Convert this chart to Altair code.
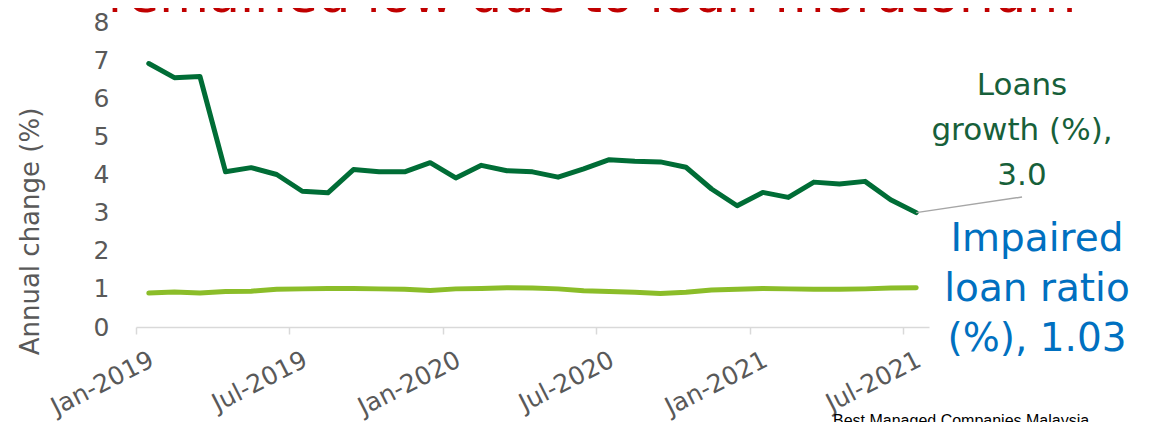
import altair as alt
import pandas as pd

# ---- data ----
months = [
    "Jan-2019", "Feb-2019", "Mar-2019", "Apr-2019", "May-2019", "Jun-2019",
    "Jul-2019", "Aug-2019", "Sep-2019", "Oct-2019", "Nov-2019", "Dec-2019",
    "Jan-2020", "Feb-2020", "Mar-2020", "Apr-2020", "May-2020", "Jun-2020",
    "Jul-2020", "Aug-2020", "Sep-2020", "Oct-2020", "Nov-2020", "Dec-2020",
    "Jan-2021", "Feb-2021", "Mar-2021", "Apr-2021", "May-2021", "Jun-2021",
    "Jul-2021",
]
loans_growth = [6.91, 6.54, 6.57, 4.07, 4.18, 4.00, 3.56, 3.52, 4.13, 4.07, 4.07,
                4.31, 3.91, 4.24, 4.10, 4.07, 3.93, 4.15, 4.39, 4.35, 4.33, 4.19,
                3.62, 3.18, 3.53, 3.40, 3.80, 3.75, 3.82, 3.34, 3.00]
impaired_ratio = [0.89, 0.92, 0.89, 0.93, 0.94, 0.99, 1.00, 1.01, 1.01, 1.00, 0.99,
                  0.96, 1.00, 1.01, 1.03, 1.02, 1.00, 0.95, 0.93, 0.91, 0.88, 0.91,
                  0.97, 0.99, 1.01, 1.00, 0.99, 0.99, 1.00, 1.02, 1.03]
tick_labels = ["Jan-2019", "Jul-2019", "Jan-2020", "Jul-2020", "Jan-2021", "Jul-2021"]
y_ticks = [0, 1, 2, 3, 4, 5, 6, 7, 8]
series_names = ["Loans growth (%)", "Impaired loan ratio (%)"]
series_colors = ["#006d36", "#8bbd29"]

title_text = "remained low due to loan moratorium"
loans_label = ["Loans", "growth (%),", "3.0"]
impaired_label = ["Impaired", "loan ratio", "(%), 1.03"]
footer_text = "Best Managed Companies Malaysia"

FONT = "DejaVu Sans"
GREY = "#595959"

rows = []
for i, m in enumerate(months):
    rows.append({"pos": i + 0.5, "month": m, "series": series_names[0], "value": loans_growth[i]})
    rows.append({"pos": i + 0.5, "month": m, "series": series_names[1], "value": impaired_ratio[i]})
df = pd.DataFrame(rows)

label_expr = "[" + ",".join("'" + t + "'" for t in tick_labels) + "][round(datum.value / 6)]"

x_scale = alt.Scale(domain=[0, len(months)], nice=False, zero=False)
y_scale = alt.Scale(domain=[0, 8], nice=False)

x_enc = alt.X(
    "pos:Q",
    scale=x_scale,
    axis=alt.Axis(
        values=[0, 6, 12, 18, 24, 30],
        labelExpr=label_expr,
        labelOverlap=False,
        title=None,
        grid=False,
        domainColor="#d9d9d9",
        domainWidth=1.5,
        tickColor="#d9d9d9",
        tickWidth=1.5,
        tickSize=7,
        labelFont=FONT,
        labelFontSize=25,
        labelColor=GREY,
        labelAngle=333,
        labelAlign="right",
        labelBaseline="top",
        labelOffset=10,
        labelPadding=13,
    ),
)
y_enc = alt.Y(
    "value:Q",
    scale=y_scale,
    axis=alt.Axis(
        values=y_ticks,
        labelOverlap=False,
        ticks=False,
        tickSize=0,
        domain=False,
        grid=False,
        labelFont=FONT,
        labelFontSize=25,
        labelColor=GREY,
        labelPadding=27,
        title="Annual change (%)",
        titleFont=FONT,
        titleFontSize=26,
        titleFontWeight="normal",
        titleColor=GREY,
        titleAngle=270,
        titleAlign="center",
        titleBaseline="middle",
        titleX=-106,
        titleY=209,
    ),
)

base = alt.Chart(df)

lines = base.mark_line(strokeWidth=5, strokeCap="round", strokeJoin="round").encode(
    x=x_enc,
    y=y_enc,
    color=alt.Color("series:N", scale=alt.Scale(domain=series_names, range=series_colors), legend=None),
    detail="series:N",
)

# leader line from the last loans-growth point to its label
leader = base.transform_filter(
    (alt.datum.series == series_names[0]) & (alt.datum.pos == len(months) - 0.5)
).mark_rule(color="#a6a6a6", strokeWidth=1.5).encode(
    x=x_enc,
    y=y_enc,
    x2=alt.value(886),
    y2=alt.value(175),
)

one = alt.Data(values=[{}])

loans_txt = alt.Chart(one).mark_text(
    text=loans_label, font=FONT, fontSize=31, color="#17603a", align="center",
    baseline="alphabetic", lineHeight=45,
).encode(x=alt.value(886), y=alt.value(73))

impaired_txt = alt.Chart(one).mark_text(
    text=impaired_label, font=FONT, fontSize=39, color="#0070c0", align="center",
    baseline="alphabetic", lineHeight=50,
).encode(x=alt.value(901), y=alt.value(229))

title_txt = alt.Chart(one).mark_text(
    text=title_text, font=FONT, fontSize=51, color="#c00000", align="center",
    baseline="alphabetic",
).encode(x=alt.value(456), y=alt.value(-10))

footer_txt = alt.Chart(one).mark_text(
    text=footer_text, font="Liberation Sans", fontSize=16, color="#000000", align="left",
    baseline="alphabetic",
).encode(x=alt.value(697), y=alt.value(404))

chart = alt.layer(lines, leader, loans_txt, impaired_txt, title_txt, footer_txt).properties(
    width=793,
    height=305,
    autosize=alt.AutoSizeParams(type="none"),
    padding={"left": 128, "top": 14, "right": 225, "bottom": 103},
    background="white",
).configure_view(stroke=None)

chart.save("out.html", embed_options={"renderer": "svg", "actions": False})
